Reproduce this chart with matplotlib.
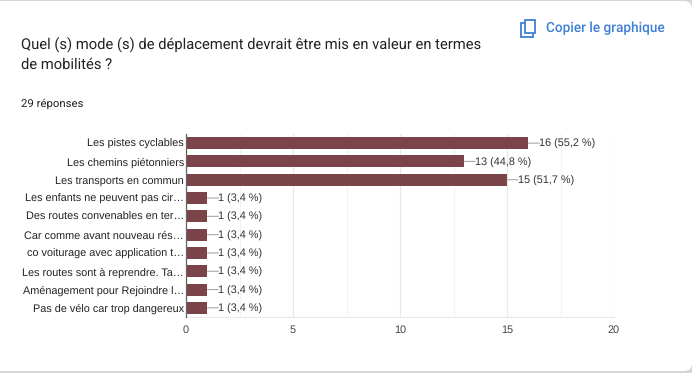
"""Google Forms style response bar chart."""

import matplotlib

matplotlib.use("Agg")
import matplotlib.pyplot as plt  # noqa: E402
from matplotlib.patches import FancyBboxPatch, Rectangle  # noqa: E402

WIDTH, HEIGHT = 692, 373

TITLE_LINES = [
    "Quel (s) mode (s) de déplacement devrait être mis en valeur en termes",
    "de mobilités ?",
]
SUBTITLE = "29 réponses"
COPY_LABEL = "Copier le graphique"

categories = [
    "Les pistes cyclables",
    "Les chemins piétonniers",
    "Les transports en commun",
    "Les enfants ne peuvent pas cir…",
    "Des routes convenables en ter…",
    "Car comme avant nouveau rés…",
    "co voiturage avec application t…",
    "Les routes sont à reprendre. Ta…",
    "Aménagement pour Rejoindre l…",
    "Pas de vélo car trop dangereux",
]
counts = [16, 13, 15, 1, 1, 1, 1, 1, 1, 1]
percents = ["55,2", "44,8", "51,7", "3,4", "3,4", "3,4", "3,4", "3,4", "3,4", "3,4"]
major_ticks = [0, 5, 10, 15, 20]
minor_ticks = [2.5, 7.5, 12.5, 17.5]

BAR_COLOR = "#7b4449"
BLUE = "#3f7fd6"

# unhinted glyphs keep text widths proportional to the font size
plt.rcParams["text.hinting"] = "no_hinting"


def fx(px):
    return px / WIDTH


def fy(px):
    return 1 - px / HEIGHT


fig = plt.figure(figsize=(WIDTH / 100, HEIGHT / 100), dpi=100, facecolor="#d6d6d6")
pixel_tf = matplotlib.transforms.Affine2D().scale(1, -1).translate(0, HEIGHT)

# white card, left side runs off the image, kept behind the axes
card = FancyBboxPatch(
    (-10, 1), WIDTH + 10, HEIGHT - 3,
    boxstyle="round,pad=0,rounding_size=8",
    transform=pixel_tf,
    facecolor="white", edgecolor="none", zorder=-1,
)
fig.add_artist(card)

fig.text(fx(21), fy(44), TITLE_LINES[0], family="Roboto", fontsize=10.65, color="#202124", va="center")
fig.text(fx(21), fy(65), TITLE_LINES[1], family="Roboto", fontsize=10.65, color="#202124", va="center")
fig.text(fx(21), fy(104), SUBTITLE, family="Roboto", fontsize=8.2, color="#202124", va="center")
fig.text(fx(546), fy(28), COPY_LABEL, family="Roboto", fontsize=9.85, color=BLUE, va="center", weight="medium")

# copy icon: back and front sheets
fig.add_artist(Rectangle((520.5, 23), 12, 14, transform=pixel_tf, fill=False, edgecolor=BLUE, linewidth=1.3))
fig.add_artist(Rectangle((525, 20), 10, 13, transform=pixel_tf, facecolor="white", edgecolor=BLUE, linewidth=1.3))

ax = fig.add_axes([fx(186), fy(317), (614 - 186) / WIDTH, (317 - 134) / HEIGHT])
ax.set_facecolor("white")
positions = list(range(len(categories)))
ax.barh(positions, counts, height=0.66, color=BAR_COLOR, zorder=3)

for pos, count, pct in zip(positions, counts, percents):
    ax.annotate(
        f"{count} ({pct} %)",
        xy=(count, pos),
        xytext=(11, -1),
        textcoords="offset pixels",
        family="Liberation Sans",
        fontsize=7.8,
        color="#333333",
        va="center",
        ha="left",
        arrowprops=dict(
            arrowstyle="-", color="#a8a8a8", linewidth=0.8, shrinkA=0, shrinkB=0,
            patchA=None, relpos=(0, 0.6),
        ),
    )

ax.set_xlim(0, 20)
ax.set_ylim(len(categories) - 0.5, -0.5)
ax.set_yticks(positions)
ax.set_yticklabels(categories, family="Liberation Sans", fontsize=7.85, color="#222222", va="center_baseline")
ax.set_xticks(major_ticks)
ax.set_xticklabels(major_ticks, family="Liberation Sans", fontsize=7.85, color="#444444")
ax.set_xticks(minor_ticks, minor=True)
ax.tick_params(axis="both", which="both", length=0)
ax.tick_params(axis="y", pad=1.5)
ax.tick_params(axis="x", pad=5.5)
ax.grid(True, axis="x", which="major", color="#e8e8e8", linewidth=0.9, zorder=0)
ax.grid(True, axis="x", which="minor", color="#f2f2f2", linewidth=0.8, zorder=0)
ax.set_axisbelow(True)

for side in ["top", "right"]:
    ax.spines[side].set_visible(False)
ax.spines["bottom"].set_color("#e8e8e8")
ax.spines["left"].set_color("#666666")
ax.spines["left"].set_linewidth(0.9)
ax.spines["left"].set_zorder(5)

fig.savefig("out.png", dpi=100, facecolor=fig.get_facecolor())
plt.close(fig)
